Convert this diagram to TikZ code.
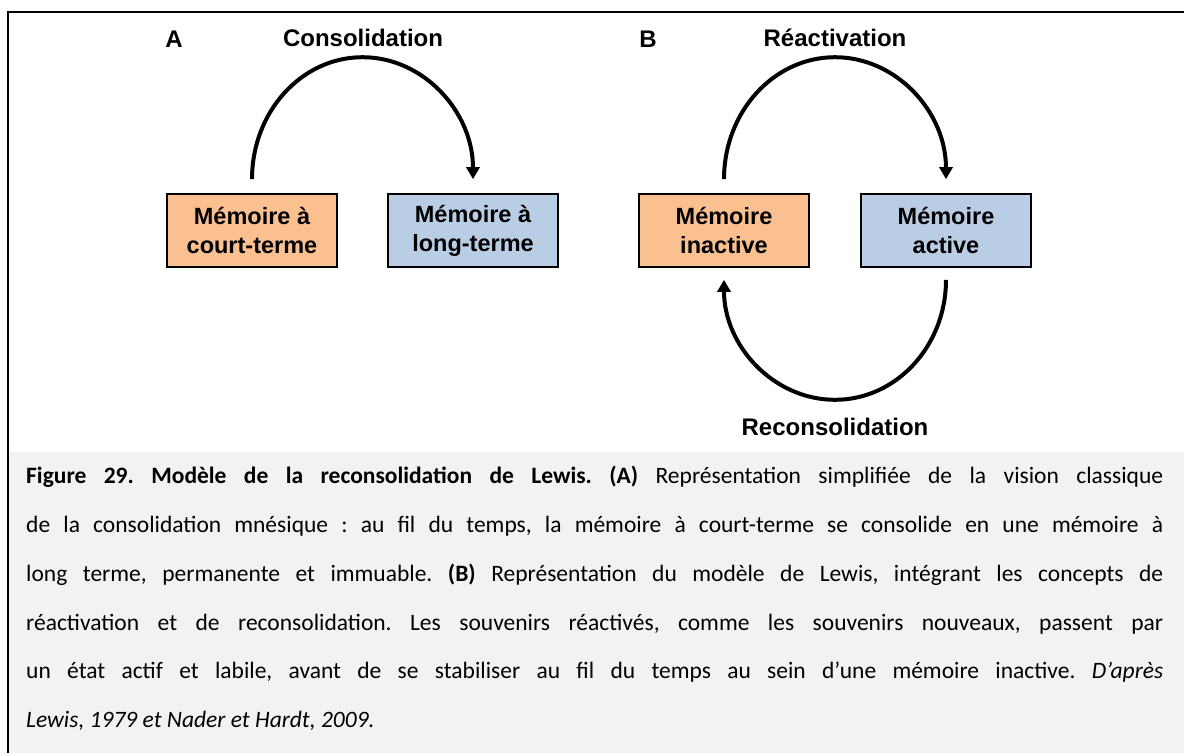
\documentclass[tikz,border=0pt]{standalone}
\usepackage{fontspec}
\setmainfont{Carlito}
\newfontfamily\arialfont{Liberation Sans}
\usetikzlibrary{arrows.meta}
\definecolor{boxorange}{HTML}{FAC090}
\definecolor{boxblue}{HTML}{B9CDE5}
\definecolor{captiongrey}{HTML}{F2F2F2}
\frenchspacing
\begin{document}
\begin{tikzpicture}[x=1pt,y=1pt,
  membox/.style={draw=black,line width=1.6pt,minimum width=170pt,minimum height=73pt,
    align=center,inner sep=0pt,font=\arialfont\bfseries\fontsize{23.5}{29}\selectfont},
  lbl/.style={inner sep=0pt,font=\arialfont\bfseries\fontsize{24}{28}\selectfont},
  curvearrow/.style={line width=4pt,-{Triangle[length=12pt,width=13pt]}},
  capline/.style={inner sep=0pt,anchor=north west,align=left,
    font=\frenchspacing\fontsize{23.5}{48.8}\selectfont}
]
\useasboundingbox (0,0) rectangle (1184,-753);
\fill[white] (0,0) rectangle (1184,-753);
\fill[captiongrey] (8.5,-452) rectangle (1184,-753);
\draw[line width=2pt] (7.5,-753) -- (7.5,-11.5) -- (1184,-11.5);

\node[membox,fill=boxorange] (ct) at (252,-230.5) {Mémoire à\\court-terme};
\node[membox,fill=boxblue] (lt) at (473,-230.5) {Mémoire à\\long-terme};
\node[membox,fill=boxorange] (in) at (724,-230.5) {Mémoire\\inactive};
\node[membox,fill=boxblue] (ac) at (946,-230.5) {Mémoire\\active};

\draw[curvearrow] ([yshift=14pt]ct.north) arc[start angle=180,end angle=0,x radius=110.5,y radius=122];
\draw[curvearrow] ([yshift=14pt]in.north) arc[start angle=180,end angle=0,x radius=111,y radius=122];
\draw[curvearrow] ([yshift=-12pt]ac.south) arc[start angle=0,end angle=-180,x radius=111,y radius=120];

\node[lbl] (la) at (174,-39) {A};
\node[lbl] (lcons) at (363,-38) {Consolidation};
\node[lbl] (lb) at (648,-39) {B};
\node[lbl] (lreact) at (835,-38) {Réactivation};
\node[lbl] (lrecons) at (835,-427) {Reconsolidation};

\node[capline] (cap) at (26,-466) {%
\makebox[1137pt][s]{\textbf{Figure 29. Modèle de la reconsolidation de Lewis. (A)} Représentation simplifiée de la vision classique}\\
\makebox[1137pt][s]{de la consolidation mnésique : au fil du temps, la mémoire à court-terme se consolide en une mémoire à}\\
\makebox[1137pt][s]{long terme, permanente et immuable. \textbf{(B)} Représentation du modèle de Lewis, intégrant les concepts de}\\
\makebox[1137pt][s]{réactivation et de reconsolidation. Les souvenirs réactivés, comme les souvenirs nouveaux, passent par}\\
\makebox[1137pt][s]{un état actif et labile, avant de se stabiliser au fil du temps au sein d’une mémoire inactive. \textit{D’après}}\\
\textit{Lewis, 1979 et Nader et Hardt, 2009.}};
\end{tikzpicture}
\end{document}
